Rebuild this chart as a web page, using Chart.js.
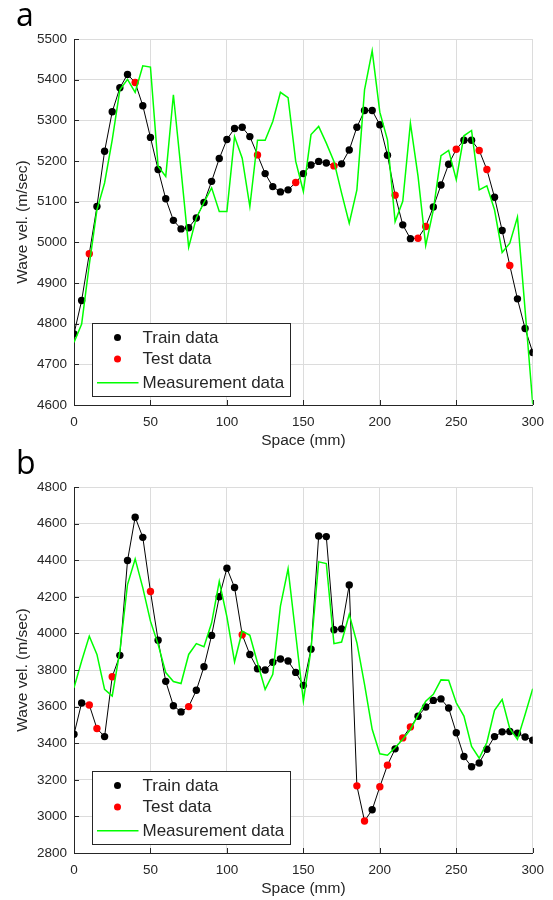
<!DOCTYPE html>
<html>
<head>
<meta charset="utf-8">
<script src="https://cdn.jsdelivr.net/npm/chart.js@4.4.1/dist/chart.umd.min.js"></script>
<style>
html,body{margin:0;padding:0;background:#ffffff;}
#wrap{position:relative;width:553px;height:900px;overflow:hidden;background:#ffffff;}
.panel{position:absolute;left:0;width:553px;height:452px;}
canvas{display:block;}
</style>
</head>
<body>
<div id="wrap">
  <div class="panel" style="top:0px;"><canvas id="chartA" width="553" height="452"></canvas></div>
  <div class="panel" style="top:448px;"><canvas id="chartB" width="553" height="452"></canvas></div>
</div>
<script>
// ---------- DATA ----------
const space = [0,5,10,15,20,25,30,35,40,45,50,55,60,65,70,75,80,85,90,95,100,
  105,110,115,120,125,130,135,140,145,150,155,160,165,170,175,180,185,190,195,200,
  205,210,215,220,225,230,235,240,245,250,255,260,265,270,275,280,285,290,295,300];

const xTicks = [0,50,100,150,200,250,300];

// Panel a
const modelA = [4775,4857,4972,5088,5224,5321,5380,5413,5393,5336,5258,
  5179,5107,5054,5033,5036,5060,5098,5150,5206,5253,
  5280,5283,5260,5215,5169,5137,5124,5129,5147,5169,
  5190,5199,5195,5188,5193,5227,5283,5324,5324,5289,
  5214,5116,5043,5009,5010,5039,5087,5141,5192,5229,
  5251,5251,5226,5179,5111,5029,4943,4861,4788,4729];
const testA = [10,40,120,145,170,210,225,230,250,265,270,285];
const measA = [4754,4799,4945,5080,5146,5252,5375,5401,5369,5434,5431,
  5187,5162,5363,5178,4988,5060,5098,5134,5076,5076,
  5260,5207,5088,5251,5251,5297,5369,5356,5199,5125,
  5265,5285,5244,5199,5121,5047,5129,5375,5471,5320,
  5252,5051,5101,5293,5162,4992,5080,5213,5226,5154,
  5262,5275,5129,5139,5080,4975,4998,5062,4834,4602];
const yTicksA = [4600,4700,4800,4900,5000,5100,5200,5300,5400,5500];

// Panel b
const modelB = [3449,3620,3609,3480,3436,3763,3880,4398,4635,4525,4229,
  3963,3738,3605,3571,3600,3689,3818,3989,4200,4356,
  4251,3993,3885,3807,3800,3842,3860,3849,3787,3716,
  3914,4532,4529,4020,4025,4265,3167,2975,3036,3162,
  3280,3369,3429,3489,3547,3598,3634,3642,3592,3457,
  3327,3271,3292,3367,3436,3462,3464,3455,3434,3416];
const testB = [10,15,25,50,75,110,185,190,200,205,215,220];
const measB = [3703,3849,3985,3885,3694,3658,3903,4267,4407,4249,4067,
  3940,3786,3737,3726,3885,3944,3927,4058,4285,4090,
  3845,4012,3990,3840,3694,3776,4149,4353,3994,3631,
  3913,4391,4382,3944,3953,4104,3949,3722,3476,3342,
  3334,3375,3421,3475,3553,3629,3667,3746,3744,3621,
  3548,3382,3318,3404,3580,3639,3479,3421,3557,3698];
const yTicksB = [2800,3000,3200,3400,3600,3800,4000,4200,4400,4600,4800];

const legendLabels = ['Train data','Test data','Measurement data'];
// ---------- END DATA ----------

const FONT = '"Liberation Sans", Arial, Helvetica, sans-serif';
const TXT = '#262626';

const deco = {
  id: 'deco',
  afterDraw(chart, args, o) {
    const ctx = chart.ctx, ca = chart.chartArea;
    const sx = chart.scales.x, sy = chart.scales.y;
    ctx.save();
    // inward tick marks
    ctx.strokeStyle = TXT; ctx.lineWidth = 1;
    sx.ticks.forEach(t => {
      const px = Math.round(sx.getPixelForValue(t.value)) + 0.5;
      ctx.beginPath(); ctx.moveTo(px, ca.bottom); ctx.lineTo(px, ca.bottom - 5); ctx.stroke();
    });
    sy.ticks.forEach(t => {
      const py = Math.round(sy.getPixelForValue(t.value)) + 0.5;
      ctx.beginPath(); ctx.moveTo(ca.left, py); ctx.lineTo(ca.left + 5, py); ctx.stroke();
    });
    // panel letter
    ctx.fillStyle = '#000';
    ctx.font = '32px "Open Sans", "Noto Sans", sans-serif';
    ctx.textAlign = 'left'; ctx.textBaseline = 'alphabetic';
    ctx.fillText(o.letter, 16, 26);
    // legend box
    const bx = ca.left + 18, by = ca.bottom - 82, bw = 198, bh = 73;
    ctx.fillStyle = '#ffffff';
    ctx.fillRect(bx, by, bw, bh);
    ctx.strokeStyle = TXT; ctx.lineWidth = 1;
    ctx.strokeRect(Math.round(bx) + 0.5, Math.round(by) + 0.5, bw, bh);
    const rows = [by + 14.5, by + 36, by + 59.7];
    const mx = bx + 25.5;
    ctx.fillStyle = '#000';
    ctx.beginPath(); ctx.arc(mx, rows[0], 3.5, 0, Math.PI * 2); ctx.fill();
    ctx.fillStyle = '#ff0000';
    ctx.beginPath(); ctx.arc(mx, rows[1], 3.5, 0, Math.PI * 2); ctx.fill();
    ctx.strokeStyle = '#00ff00'; ctx.lineWidth = 1.5;
    ctx.beginPath(); ctx.moveTo(bx + 5, rows[2]); ctx.lineTo(bx + 46.5, rows[2]); ctx.stroke();
    ctx.fillStyle = TXT;
    ctx.font = '17px ' + FONT;
    ctx.textBaseline = 'middle';
    legendLabels.forEach((t, i) => ctx.fillText(t, bx + 50.5, rows[i] + 0.5));
    ctx.restore();
  }
};

function makeChart(id, model, meas, tests, yTicks, letter) {
  const all = space.map((x, i) => ({x: x, y: model[i]}));
  const train = all.filter(p => !tests.includes(p.x));
  const test = all.filter(p => tests.includes(p.x));
  const measPts = space.map((x, i) => ({x: x, y: meas[i]}));
  return new Chart(document.getElementById(id), {
    type: 'scatter',
    data: {
      datasets: [
        {label: legendLabels[2], data: measPts, showLine: true, borderColor: '#00ff00',
         borderWidth: 1.5, pointRadius: 0, pointHoverRadius: 0, fill: false, order: 1},
        {label: legendLabels[1], data: test, backgroundColor: '#ff0000', borderWidth: 0,
         pointRadius: 3.7, order: 2},
        {label: legendLabels[0], data: train, backgroundColor: '#000000', borderWidth: 0,
         pointRadius: 3.7, order: 3},
        {label: 'model', data: all, showLine: true, borderColor: '#000000', borderWidth: 1,
         pointRadius: 0, pointHoverRadius: 0, fill: false, order: 4}
      ]
    },
    options: {
      responsive: false, animation: false, devicePixelRatio: 1,
      layout: {padding: {top: 39, right: 15, left: 0, bottom: 0}},
      plugins: {legend: {display: false}, tooltip: {enabled: false}, deco: {letter: letter}},
      scales: {
        x: {
          type: 'linear', min: xTicks[0], max: xTicks[xTicks.length - 1],
          afterBuildTicks: s => { s.ticks = xTicks.map(v => ({value: v})); },
          afterFit: s => { s.height = 47; },
          grid: {color: '#dcdcdc', drawTicks: false, lineWidth: 1},
          border: {color: TXT, width: 1},
          ticks: {color: TXT, font: {family: FONT, size: 13.5}, padding: 9, maxRotation: 0, autoSkip: false,
                  callback: v => String(v)},
          title: {display: true, text: 'Space (mm)', color: TXT, font: {family: FONT, size: 15.5},
                  padding: {top: 0, bottom: 2}}
        },
        y: {
          type: 'linear', min: yTicks[0], max: yTicks[yTicks.length - 1],
          afterBuildTicks: s => { s.ticks = yTicks.map(v => ({value: v})); },
          afterFit: s => { s.width = 74; },
          grid: {color: '#dcdcdc', drawTicks: false, lineWidth: 1},
          border: {color: TXT, width: 1},
          ticks: {color: TXT, font: {family: FONT, size: 13.5}, padding: 7, autoSkip: false,
                  callback: v => String(v)},
          title: {display: true, text: 'Wave vel. (m/sec)', color: TXT, font: {family: FONT, size: 15.5},
                  padding: {top: 13, bottom: 0}}
        }
      }
    },
    plugins: [deco]
  });
}

makeChart('chartA', modelA, measA, testA, yTicksA, 'a');
makeChart('chartB', modelB, measB, testB, yTicksB, 'b');
</script>
</body>
</html>
